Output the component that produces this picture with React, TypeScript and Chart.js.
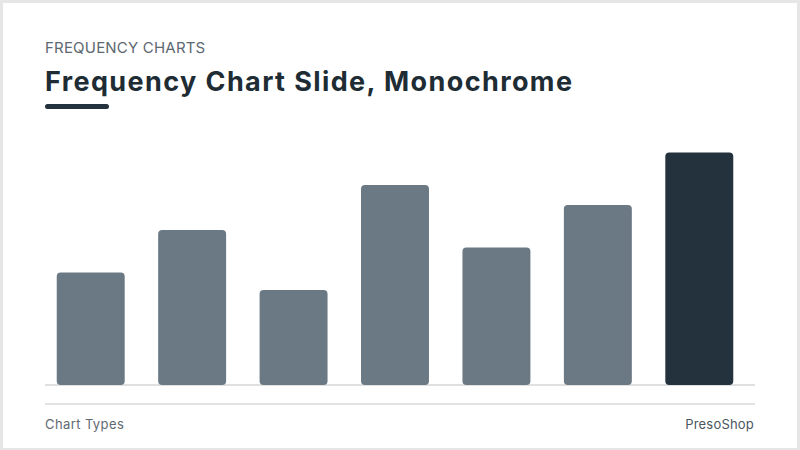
import React, { useEffect, useRef } from 'react';
import Chart from 'chart.js/auto';

// Chart data
const categories = ['A', 'B', 'C', 'D', 'E', 'F', 'G'];
const frequencies = [45, 62, 38, 80, 55, 72, 93];
const highlightIndex = 6;

const GRAY = '#6b7984';
const DARK = '#23323c';

const FrequencyBars: React.FC = () => {
    const canvasRef = useRef<HTMLCanvasElement>(null);
    const chartRef = useRef<Chart | null>(null);

    useEffect(() => {
        if (!canvasRef.current) return;
        const ctx = canvasRef.current.getContext('2d');
        if (!ctx) return;

        chartRef.current = new Chart(ctx, {
            type: 'bar',
            data: {
                labels: categories,
                datasets: [
                    {
                        data: frequencies,
                        backgroundColor: frequencies.map((_, i) => (i === highlightIndex ? DARK : GRAY)),
                        borderRadius: 4,
                        borderSkipped: false,
                        categoryPercentage: 1,
                        barPercentage: 0.67,
                    },
                ],
            },
            options: {
                responsive: true,
                maintainAspectRatio: false,
                animation: false,
                layout: { padding: 0 },
                plugins: {
                    legend: { display: false },
                    tooltip: { enabled: false },
                },
                scales: {
                    x: { display: false },
                    y: { display: false, min: 0, max: 100 },
                },
            },
        });

        return () => {
            if (chartRef.current) {
                chartRef.current.destroy();
                chartRef.current = null;
            }
        };
    }, []);

    // offsets are inside the 3px frame border
    return (
        <div style={{ position: 'absolute', left: 37, top: 132, width: 710, height: 250 }}>
            <canvas ref={canvasRef} />
        </div>
    );
};

const App: React.FC = () => {
    const font = 'Inter, "Open Sans", sans-serif';
    return (
        <div
            style={{
                position: 'fixed',
                left: 0,
                top: 0,
                width: 800,
                height: 450,
                boxSizing: 'border-box',
                border: '3px solid #e6e6e6',
                borderBottomWidth: 2,
                background: '#ffffff',
                fontFamily: font,
                overflow: 'hidden',
            }}
        >
            <div style={{ position: 'absolute', left: 42, top: 35, fontSize: 15, color: '#5d6870', letterSpacing: 0.2 }}>
                FREQUENCY CHARTS
            </div>
            <div
                style={{
                    position: 'absolute',
                    left: 42,
                    top: 62,
                    fontSize: 27,
                    fontWeight: 700,
                    letterSpacing: 1.4,
                    color: '#202c34',
                    whiteSpace: 'nowrap',
                }}
            >
                Frequency Chart Slide, Monochrome
            </div>
            <div style={{ position: 'absolute', left: 42, top: 101, width: 64, height: 5, borderRadius: 3, background: '#23323c' }} />
            {/* baseline */}
            <div style={{ position: 'absolute', left: 42, top: 381, width: 710, height: 2, background: '#e0e0e0' }} />
            <FrequencyBars />
            {/* footer separator */}
            <div style={{ position: 'absolute', left: 42, top: 400, width: 710, height: 1.5, background: '#e3e3e3' }} />
            <div style={{ position: 'absolute', left: 42, top: 413, fontSize: 13, letterSpacing: 0.4, color: '#5f6a72' }}>
                Chart Types
            </div>
            <div style={{ position: 'absolute', right: 43, top: 413, fontSize: 13, letterSpacing: 0.2, color: '#4b565e' }}>
                PresoShop
            </div>
        </div>
    );
};

export default App;
